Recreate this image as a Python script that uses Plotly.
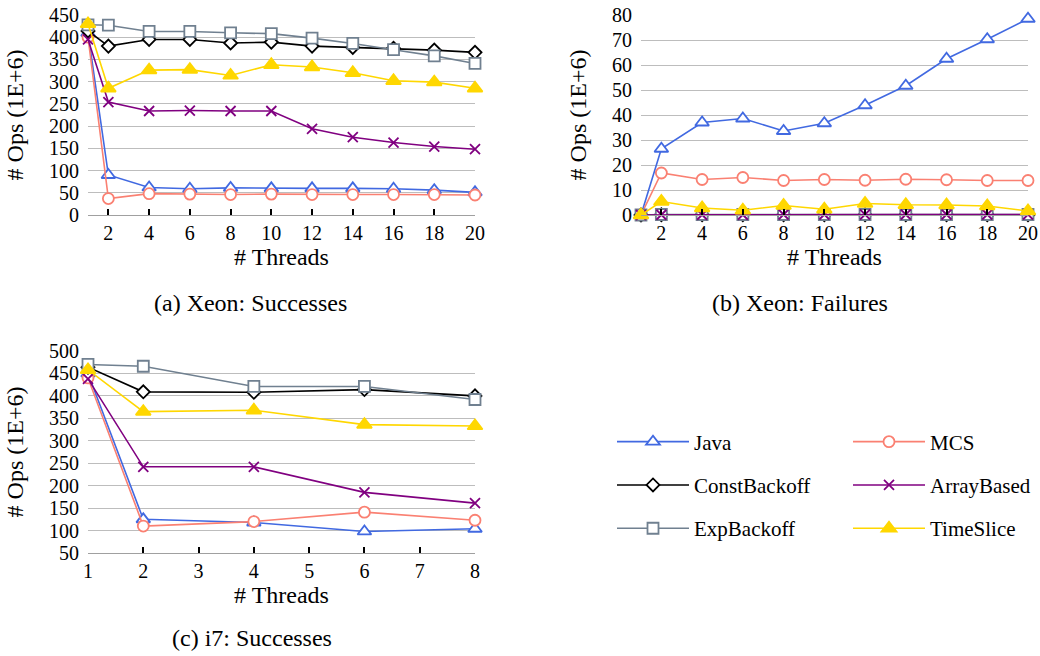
import plotly.graph_objects as go

# ---------------- data ----------------
threads_xeon = [1, 2, 4, 6, 8, 10, 12, 14, 16, 18, 20]
threads_i7 = [1, 2, 4, 6, 8]

# (a) Xeon: Successes
xs_java = [410, 90, 62, 59, 61, 60, 60, 60, 59, 56, 51]
xs_mcs = [400, 37, 48, 47, 46, 47, 46, 46, 46, 46, 45]
xs_const = [414, 380, 395, 395, 387, 389, 380, 377, 375, 371, 366]
xs_exp = [428, 427, 413, 413, 410, 408, 398, 386, 372, 358, 341]
xs_array = [395, 254, 234, 235, 234, 234, 194, 175, 163, 154, 148]
xs_time = [430, 285, 326, 327, 314, 338, 333, 320, 302, 299, 285]

# (b) Xeon: Failures
xf_java = [0, 26.5, 37, 38.6, 33.6, 36.7, 43.9, 51.7, 62.5, 70.3, 78.5]
xf_mcs = [0, 16.8, 14.2, 15.0, 13.8, 14.2, 13.9, 14.3, 14.1, 13.8, 13.8]
xf_const = [0, 0.1, 0.1, 0.1, 0.1, 0.1, 0.1, 0.1, 0.1, 0.1, 0.1]
xf_exp = [0, 0.2, 0.2, 0.2, 0.2, 0.2, 0.2, 0.2, 0.2, 0.2, 0.2]
xf_array = [0, 0.1, 0.1, 0.1, 0.2, 0.2, 0.2, 0.2, 0.2, 0.2, 0.2]
xf_time = [0, 5.4, 2.8, 1.9, 3.8, 2.3, 4.6, 4.1, 4.0, 3.6, 1.6]

# (c) i7: Successes
i7_java = [450, 125, 118, 98, 104]
i7_mcs = [440, 110, 120, 141, 123]
i7_const = [464, 409, 408, 414, 400]
i7_exp = [470, 466, 421, 421, 392]
i7_array = [438, 242, 242, 185, 161]
i7_time = [458, 365, 368, 336, 333]

series_names = ["Java", "MCS", "ConstBackoff", "ExpBackoff", "ArrayBased", "TimeSlice"]
xeon_succ = [xs_java, xs_mcs, xs_const, xs_exp, xs_array, xs_time]
xeon_fail = [xf_java, xf_mcs, xf_const, xf_exp, xf_array, xf_time]
i7_succ = [i7_java, i7_mcs, i7_const, i7_exp, i7_array, i7_time]

xeon_xticks = [2, 4, 6, 8, 10, 12, 14, 16, 18, 20]
i7_xticks = [1, 2, 3, 4, 5, 6, 7, 8]

# ---------------- styles ----------------
styles = {
    "Java": dict(color="#4169E1", symbol="triangle-up", fill="white", size=12, legend="legend"),
    "MCS": dict(color="#FA8072", symbol="circle", fill="white", size=11, legend="legend2"),
    "ConstBackoff": dict(color="#000000", symbol="diamond", fill="white", size=10, legend="legend"),
    "ExpBackoff": dict(color="#708090", symbol="square", fill="white", size=11, legend="legend"),
    "ArrayBased": dict(color="#800080", symbol="x-thin", fill="#800080", size=10, legend="legend2"),
    "TimeSlice": dict(color="#FFD700", symbol="triangle-up", fill="#FFD700", size=13, legend="legend2"),
}

FONT = '"Liberation Serif", "Times New Roman", Times, serif'
GRID = "#BDBDBD"

fig = go.Figure()

panels = [
    (threads_xeon, xeon_succ, "x", "y", True),
    (threads_xeon, xeon_fail, "x2", "y2", False),
    (threads_i7, i7_succ, "x3", "y3", False),
]

for xs, data, xa, ya, show in panels:
    for name, ys in zip(series_names, data):
        st = styles[name]
        fig.add_trace(go.Scatter(
            x=xs, y=ys, name=name, mode="lines+markers",
            xaxis=xa, yaxis=ya,
            legendgroup=name, showlegend=show, legend=st["legend"],
            cliponaxis=False,
            line=dict(color=st["color"], width=1.6),
            marker=dict(symbol=st["symbol"], size=st["size"], color=st["fill"],
                        line=dict(color=st["color"], width=1.8)),
        ))

tickfont = dict(family=FONT, size=20, color="#000")
titlefont = dict(family=FONT, size=24, color="#000")

def xaxis(domain, rng, tickvals, anchor):
    return dict(domain=domain, range=rng, tickvals=tickvals, anchor=anchor,
                showgrid=False, zeroline=False, showline=True, linecolor="#A0A0A0",
                linewidth=1, ticks="inside", ticklen=6, tickwidth=2, tickcolor="#000",
                tickfont=tickfont, title=dict(text="# Threads", font=titlefont, standoff=0),
                automargin=False, fixedrange=True)

def yaxis(domain, rng, dtick, anchor):
    return dict(domain=domain, range=rng, dtick=dtick, anchor=anchor,
                showgrid=True, gridcolor=GRID, gridwidth=1, zeroline=False,
                showline=False, ticks="", tickfont=tickfont, ticklabelstandoff=8,
                title=dict(text="# Ops (1E+6)", font=titlefont, standoff=18),
                automargin=False, fixedrange=True)

top_dom = [1 - 215 / 656, 1 - 15 / 656]
bot_dom = [1 - 553 / 656, 1 - 351 / 656]

fig.update_layout(
    width=1040, height=656,
    margin=dict(l=0, r=0, t=0, b=0, autoexpand=False),
    paper_bgcolor="white", plot_bgcolor="white",
    font=dict(family=FONT, color="#000"),
    xaxis=xaxis([88 / 1040, 475 / 1040], [1, 20], xeon_xticks, "y"),
    yaxis=yaxis(top_dom, [0, 450], 50, "x"),
    xaxis2=xaxis([641 / 1040, 1028 / 1040], [1, 20], xeon_xticks, "y2"),
    yaxis2=yaxis(top_dom, [0, 80], 10, "x2"),
    xaxis3=xaxis([88 / 1040, 475 / 1040], [1, 8], i7_xticks, "y3"),
    yaxis3=yaxis(bot_dom, [50, 500], 50, "x3"),
    legend=dict(x=612 / 1040, y=1 - 485 / 656, xanchor="left", yanchor="middle",
                font=dict(family=FONT, size=21, color="#000"),
                tracegroupgap=13, itemwidth=72, bgcolor="rgba(0,0,0,0)"),
    legend2=dict(x=848 / 1040, y=1 - 485 / 656, xanchor="left", yanchor="middle",
                 font=dict(family=FONT, size=21, color="#000"),
                 tracegroupgap=13, itemwidth=72, bgcolor="rgba(0,0,0,0)"),
    annotations=[
        dict(text="(a) Xeon: Successes", x=250 / 1040, y=1 - 303 / 656, xref="paper", yref="paper",
             xanchor="center", yanchor="middle",
             showarrow=False, font=dict(family=FONT, size=24, color="#000")),
        dict(text="(b) Xeon: Failures", x=800 / 1040, y=1 - 303 / 656, xref="paper", yref="paper",
             xanchor="center", yanchor="middle",
             showarrow=False, font=dict(family=FONT, size=24, color="#000")),
        dict(text="(c) i7: Successes", x=252 / 1040, y=1 - 638 / 656, xref="paper", yref="paper",
             xanchor="center", yanchor="middle",
             showarrow=False, font=dict(family=FONT, size=24, color="#000")),
    ],
)

fig.write_html("out.html")
